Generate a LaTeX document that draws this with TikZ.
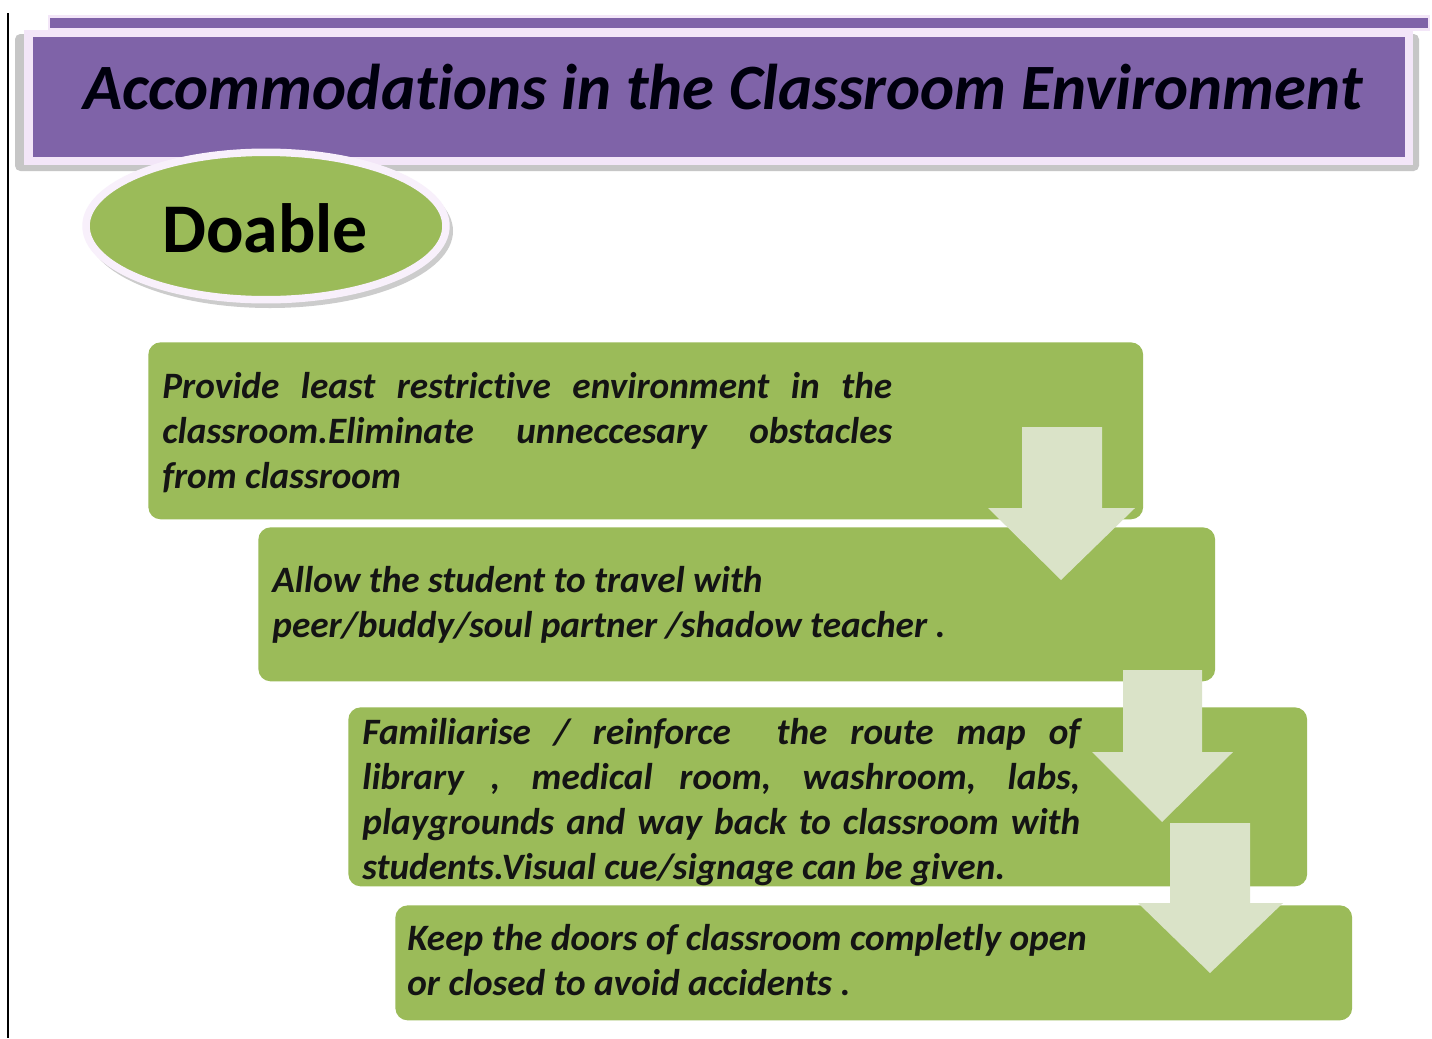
\documentclass[tikz,border=0pt]{standalone}
\usepackage{fontspec}
\setmainfont{Carlito}[Ligatures=NoCommon]
\usepackage{tikz}
\usetikzlibrary{shapes.geometric}

\definecolor{bannerpurple}{RGB}{127,99,168}
\definecolor{bannerrim}{RGB}{243,230,248}
\definecolor{leafgreen}{RGB}{155,187,89}
\definecolor{arrowpale}{RGB}{218,227,200}
\hyphenpenalty=10000
\tolerance=10000

\begin{document}
\begin{tikzpicture}[x=0.02cm, y=-0.02cm,
    stepbox/.style={fill=leafgreen, rounded corners=7pt, anchor=north west, inner sep=0pt},
    steptext/.style={anchor=north west, inner sep=0pt, text=black!92,
        font=\fontsize{21.2}{25.6}\selectfont\bfseries\itshape},
    flowarrow/.style={fill=arrowpale}]
    \useasboundingbox (0,0) rectangle (1432,1038);
    \fill[white] (0,0) rectangle (1432,1038);
    \draw[line width=0.04cm] (8,13) -- (8,1038);

    % Title banner
    \fill[bannerrim] (48,15) rectangle (1430,31);
    \fill[bannerpurple] (50,18) rectangle (1428,28);
    \fill[gray!45, rounded corners=3pt] (15,34) rectangle (1419,171);
    \fill[bannerrim] (24,30) rectangle (1413,165);
    \node[fill=bannerpurple, minimum width=27.44cm, minimum height=2.4cm, anchor=north west, inner sep=0pt] (banner) at (33,37) {};
    \node[anchor=base, font=\fontsize{36.8}{44}\selectfont\bfseries\itshape, text=black!95!blue] (title) at (723,109) {Accommodations in the Classroom Environment};

    % Doable
    \fill[gray!40] (270,231) ellipse [x radius=183, y radius=77];
    \node[ellipse, fill=leafgreen, draw=bannerrim!60!white, line width=0.15cm, minimum width=7.2cm, minimum height=2.95cm, inner sep=0pt] (doable) at (266,226) {};
    \node[anchor=base, font=\fontsize{39.7}{48}\selectfont\bfseries] (doabletext) at (265,252) {Doable};

    % Steps
    \node[stepbox, minimum width=19.9cm, minimum height=3.54cm] (b1) at (148,342) {};
    \node[stepbox, minimum width=19.14cm, minimum height=3.08cm] (b2) at (258,527) {};
    \node[stepbox, minimum width=19.18cm, minimum height=3.58cm] (b3) at (348,707) {};
    \node[stepbox, minimum width=19.14cm, minimum height=2.3cm] (b4) at (395,905) {};

    % Arrows
    \fill[flowarrow] (1022,427) -- (1102,427) -- (1102,508) -- (1135,508) -- (1061,580) -- (988,508) -- (1022,508) -- cycle;
    \fill[flowarrow] (1123,670) -- (1202,670) -- (1202,752) -- (1233,752) -- (1162,822) -- (1092,752) -- (1123,752) -- cycle;
    \fill[flowarrow] (1170,823) -- (1250,823) -- (1250,903) -- (1283,903) -- (1210,973) -- (1138,903) -- (1170,903) -- cycle;

    % Step texts
    \node[steptext, text width=14.6cm, align=justify] (t1) at (162,372)
        {Provide least restrictive environment in the\linebreak classroom.Eliminate unneccesary obstacles\linebreak from classroom};
    \node[steptext, align=left] (t2) at (272,566)
        {Allow the student to travel with\\ peer/buddy/soul partner /shadow teacher .};
    \node[steptext, text width=14.36cm, align=justify] (t3) at (362,718)
        {Familiarise / reinforce \ the route map of\linebreak library , medical room, washroom, labs,\linebreak playgrounds and way back to classroom with\linebreak students.Visual cue/signage can be given.};
    \node[steptext, align=left] (t4) at (407,924)
        {Keep the doors of classroom completly open\\ or closed to avoid accidents .};
\end{tikzpicture}
\end{document}
